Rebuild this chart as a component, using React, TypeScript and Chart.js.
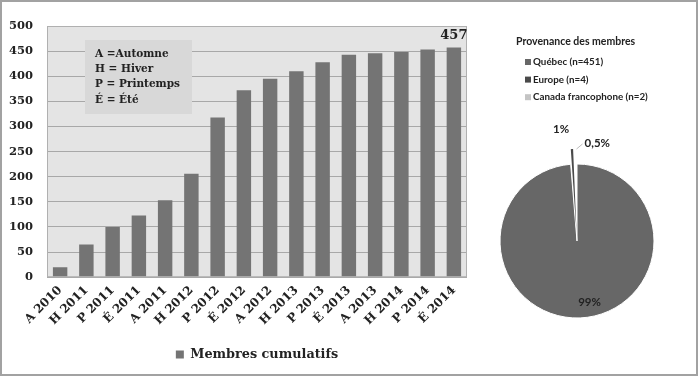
import React, { useEffect, useRef } from "react";
import { Chart, registerables } from "chart.js";
Chart.register(...registerables);

const periods = ["A 2010", "H 2011", "P 2011", "É 2011", "A 2011", "H 2012", "P 2012", "É 2012", "A 2012", "H 2013", "P 2013", "É 2013", "A 2013", "H 2014", "P 2014", "É 2014"];
const cumulativeMembers = [20, 65, 100, 123, 153, 206, 318, 372, 395, 410, 428, 443, 446, 448, 453, 457];
const seriesLabel = "Membres cumulatifs";
const lastValueLabel = "457";
const yMax = 500;
const yStep = 50;
const seasonKey = ["A =Automne", "H = Hiver", "P = Printemps", "É = Été"];

const pieTitle = "Provenance des membres";
const originLabels = ["Québec (n=451)", "Europe (n=4)", "Canada francophone (n=2)"];
const originCounts = [451, 4, 2];
const originPercent = ["99%", "1%", "0,5%"];
const originColors = ["#676767", "#4a4a4a", "#c4c4c4"];
const originOffsets = [0, 31, 31];

const SERIF = "DejaVu Serif";
const SANS = "Lato";
const TEXT = "#222222";

const barDecor = {
  id: "barDecor",
  beforeDraw(chart: any) {
    const { ctx, chartArea } = chart;
    const { left, top, right, bottom } = chartArea;
    ctx.save();
    ctx.fillStyle = "#e4e4e4";
    ctx.fillRect(left, top, right - left, bottom - top);
    ctx.restore();
  },
  afterDatasetsDraw(chart: any) {
    const { ctx, chartArea } = chart;
    const { left, top, right, bottom } = chartArea;
    ctx.save();
    ctx.strokeStyle = "#b0b0b0";
    ctx.lineWidth = 1;
    ctx.strokeRect(left + 0.5, top + 0.5, right - left - 1, bottom - top - 1);
    const bx = left + 38;
    const by = top + 14;
    ctx.fillStyle = "#d8d8d8";
    ctx.fillRect(bx, by, 107, 74);
    ctx.fillStyle = TEXT;
    ctx.font = `bold 10.5px "${SERIF}"`;
    ctx.textBaseline = "middle";
    ctx.textAlign = "left";
    seasonKey.forEach((s, i) => ctx.fillText(s, bx + 10, by + 14 + i * 15.3));
    const meta = chart.getDatasetMeta(0);
    const last = meta.data[meta.data.length - 1];
    ctx.font = `bold 13px "${SERIF}"`;
    ctx.textAlign = "center";
    ctx.textBaseline = "bottom";
    ctx.fillText(lastValueLabel, last.x, last.y - 5);
    ctx.restore();
  },
};

const pieDecor = {
  id: "pieDecor",
  afterDraw(chart: any) {
    const { ctx } = chart;
    ctx.save();
    ctx.fillStyle = TEXT;
    ctx.textBaseline = "middle";
    ctx.textAlign = "left";
    ctx.font = `bold 10.5px "${SANS}"`;
    ctx.fillText(pieTitle, 36, 42);
    ctx.font = `bold 9.8px "${SANS}"`;
    originLabels.forEach((l, i) => {
      const y = 62 + i * 17.6;
      ctx.fillStyle = originColors[i];
      ctx.fillRect(45, y - 3, 6, 6);
      ctx.fillStyle = TEXT;
      ctx.fillText(l, 53, y);
    });
    const arcs = chart.getDatasetMeta(0).data;
    ctx.font = `bold 11.5px "${SANS}"`;
    arcs.forEach((a: any, i: number) => {
      const mid = (a.startAngle + a.endAngle) / 2;
      const r = a.outerRadius + originOffsets[i];
      if (i === 0) {
        ctx.textAlign = "center";
        ctx.fillText(originPercent[i], a.x + Math.cos(mid) * r * 0.8 + 10, a.y + Math.sin(mid) * r * 0.8);
      } else {
        const tx = a.x + Math.cos(mid) * r;
        const ty = a.y + Math.sin(mid) * r;
        if (i === 1) {
          ctx.textAlign = "right";
          ctx.fillText(originPercent[i], tx - 2, ty - 4);
        } else {
          ctx.strokeStyle = "#bbbbbb";
          ctx.lineWidth = 1;
          ctx.beginPath();
          ctx.moveTo(tx + 1, ty + 16);
          ctx.lineTo(tx + 7, ty + 11);
          ctx.stroke();
          ctx.textAlign = "left";
          ctx.fillText(originPercent[i], tx + 9, ty + 10);
        }
      }
    });
    ctx.restore();
  },
};

export default function App() {
  const barRef = useRef<HTMLCanvasElement>(null);
  const pieRef = useRef<HTMLCanvasElement>(null);

  useEffect(() => {
    const bar = new Chart(barRef.current!, {
      type: "bar",
      data: {
        labels: periods,
        datasets: [
          {
            label: seriesLabel,
            data: cumulativeMembers,
            backgroundColor: "#747474",
            borderWidth: 0,
            barPercentage: 0.55,
            categoryPercentage: 1,
          },
        ],
      },
      options: {
        responsive: false,
        animation: false,
        devicePixelRatio: 1,
        events: [],
        layout: { padding: { left: 9, right: 13, top: 26, bottom: 5 } },
        plugins: {
          tooltip: { enabled: false },
          legend: {
            position: "bottom",
            fullSize: false,
            labels: {
              boxWidth: 8,
              boxHeight: 8,
              padding: 6,
              color: TEXT,
              font: { family: SERIF, weight: "bold", size: 12.8 },
            },
          },
        },
        scales: {
          x: {
            grid: { display: false, drawTicks: false },
            border: { display: false },
            ticks: {
              minRotation: 45,
              maxRotation: 45,
              padding: 6,
              color: TEXT,
              font: { family: SERIF, weight: "bold", size: 12 },
            },
            afterFit: (s: any) => {
              s.height = 65;
            },
          },
          y: {
            min: 0,
            max: yMax,
            grid: { color: "#a8a8a8", lineWidth: 1, drawTicks: false },
            border: { display: false },
            ticks: {
              stepSize: yStep,
              padding: 14,
              color: TEXT,
              font: { family: SERIF, weight: "bold", size: 11.5 },
            },
            afterFit: (s: any) => {
              s.width = 38;
            },
          },
        },
      },
      plugins: [barDecor],
    } as any);

    const pie = new Chart(pieRef.current!, {
      type: "pie",
      data: {
        labels: originLabels,
        datasets: [
          {
            data: originCounts,
            backgroundColor: originColors,
            borderColor: "#ffffff",
            borderWidth: [1, 0, 0],
            offset: originOffsets,
          },
        ],
      },
      options: {
        responsive: false,
        animation: false,
        devicePixelRatio: 1,
        events: [],
        radius: 77,
        layout: { padding: { top: 106, left: 0, right: 0, bottom: 0 } },
        plugins: {
          tooltip: { enabled: false },
          legend: { display: false },
        },
      },
      plugins: [pieDecor],
    } as any);

    return () => {
      bar.destroy();
      pie.destroy();
    };
  }, []);

  return (
    <div style={{ position: "fixed", left: 0, top: 0, width: 700, height: 378, background: "#ffffff" }}>
      <canvas ref={barRef} width={480} height={376} style={{ position: "absolute", left: 0, top: 0, width: 480, height: 376 }} />
      <canvas ref={pieRef} width={194} height={376} style={{ position: "absolute", left: 480, top: 0, width: 194, height: 376 }} />
      <div
        style={{
          position: "absolute",
          left: 0,
          top: 0,
          width: 694,
          height: 372,
          border: "2px solid #a2a2a2",
          pointerEvents: "none",
        }}
      />
    </div>
  );
}
